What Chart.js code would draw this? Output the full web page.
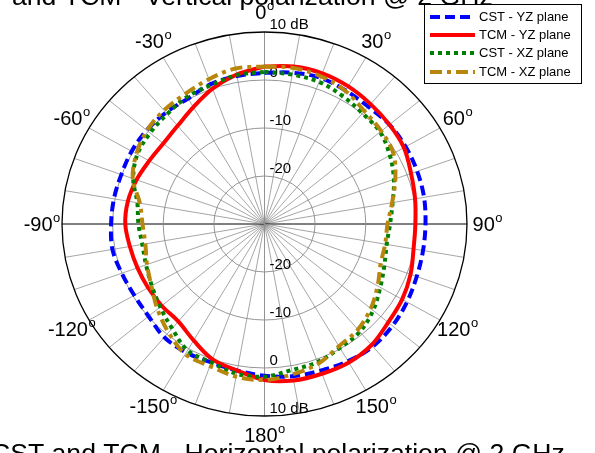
<!DOCTYPE html>
<html><head><meta charset="utf-8">
<script src="https://cdn.jsdelivr.net/npm/chart.js@4.4.0/dist/chart.umd.min.js"></script>
<style>html,body{margin:0;padding:0;background:#fff;}#wrap{width:595px;height:453px;position:relative;overflow:hidden;}</style>
</head><body><div id="wrap"><canvas id="c" width="595" height="453"></canvas></div>
<script>
// ---- data (angle in degrees, clockwise from top; values in dB) ----
const angles = [0,10,20,30,40,50,60,70,80,90,100,110,120,130,140,150,160,170,180,190,200,210,220,230,240,250,260,270,280,290,300,310,320,330,340,350];
const cstYZ = [1.5,2.0,2.4,2.1,1.9,2.2,2.2,2.1,2.0,1.8,1.8,2.0,2.5,3.0,3.3,3.0,2.5,2.2,1.6,1.0,0.7,0.9,0.8,-0.1,-0.3,0.0,0.5,0.3,0.2,0.1,0.3,0.4,0.3,0.2,1.0,1.3];
const tcmYZ = [2.8,3.3,3.4,3.1,2.6,2.2,1.8,0.8,0.2,-0.2,-0.1,0.7,1.4,1.9,2.9,3.3,3.2,3.1,2.5,1.0,0.0,-2.0,-3.5,-3.5,-3.45,-3.3,-3.0,-2.5,-2.6,-3.1,-3.7,-3.9,-3.3,-1.9,0.0,1.6];
const cstXZ = [1.7,1.6,1.5,0.8,0.1,-0.2,-1.4,-2.8,-4.3,-5.2,-5.5,-4.8,-3.6,-2.0,-0.7,-0.2,0.6,0.9,1.8,1.7,0.7,0.4,-1.6,-3.1,-4.3,-5.1,-5.5,-5.1,-4.5,-2.4,-1.0,-0.5,-0.1,0.6,0.8,1.5];
const tcmXZ = [2.8,3.0,2.7,2.0,0.7,0.1,-0.6,-2.5,-4.4,-5.7,-5.8,-5.6,-4.2,-2.6,-1.3,-0.6,1.0,1.8,2.5,2.3,1.5,1.3,-0.5,-2.4,-4.2,-5.3,-6.1,-5.9,-5.0,-2.3,-0.8,0.3,0.9,1.3,2.1,2.9];
const seriesLabels = ['CST - YZ plane','TCM - YZ plane','CST - XZ plane','TCM - XZ plane'];
const angleTicks = [0,30,60,90,120,150,180,-150,-120,-90,-60,-30];
const ringTicks = [-20,-10,0,10];
const ringTickLabels = ['-20','-10','0','10 dB'];
const rMin = -30, rMax = 10;
const spokeStep = 10;
const titleTop = 'CST and TCM - Vertical polarization @ 2 GHz';
const titleBottom = 'CST and TCM - Horizontal polarization @ 2 GHz';

const FONT = '"Liberation Sans", Arial, Helvetica, sans-serif';

function toXY(vals){
  const pts = angles.map((a,i)=>{
    const r = vals[i]-rMin, t = a*Math.PI/180;
    return {x: r*Math.sin(t), y: r*Math.cos(t)};
  });
  pts.push({x: pts[0].x, y: pts[0].y});
  return pts;
}

const polarGrid = {
  id: 'polarGrid',
  beforeDatasetsDraw(chart){
    const {ctx, scales:{x, y}} = chart;
    const cx = x.getPixelForValue(0), cy = y.getPixelForValue(0);
    const R = rMax - rMin;
    const rx = v => x.getPixelForValue(v) - cx;
    const ry = v => cy - y.getPixelForValue(v);
    ctx.save();
    // spokes
    for (let a = 0; a < 180; a += spokeStep){
      const t = a*Math.PI/180;
      ctx.beginPath();
      ctx.moveTo(cx - rx(R)*Math.sin(t), cy + ry(R)*Math.cos(t));
      ctx.lineTo(cx + rx(R)*Math.sin(t), cy - ry(R)*Math.cos(t));
      ctx.strokeStyle = a === 90 ? '#000' : (a === 0 ? '#777' : '#8f8f8f');
      ctx.lineWidth = a === 90 ? 1 : 0.8;
      ctx.stroke();
    }
    // rings
    ringTicks.forEach((v, i) => {
      const r = v - rMin;
      ctx.beginPath();
      ctx.ellipse(cx, cy, rx(r), ry(r), 0, 0, 2*Math.PI);
      const outer = i === ringTicks.length - 1;
      ctx.strokeStyle = outer ? '#000' : '#8a8a8a';
      ctx.lineWidth = outer ? 1.3 : 0.9;
      ctx.stroke();
    });
    // ring labels (top and bottom)
    ctx.fillStyle = '#000';
    ctx.font = '15px ' + FONT;
    ctx.textAlign = 'left';
    ctx.textBaseline = 'alphabetic';
    ringTicks.forEach((v, i) => {
      const r = v - rMin;
      ctx.fillText(ringTickLabels[i], cx + 5, cy - ry(r) - 3);
      ctx.fillText(ringTickLabels[i], cx + 5, cy + ry(r) - 3);
    });
    ctx.restore();
  },
  afterDraw(chart){
    const {ctx, scales:{x, y}} = chart;
    const cx = x.getPixelForValue(0), cy = y.getPixelForValue(0);
    const R = rMax - rMin;
    const RX = x.getPixelForValue(R) - cx, RY = cy - y.getPixelForValue(R);
    ctx.save();
    ctx.fillStyle = '#000';
    // angle labels
    angleTicks.forEach(a => {
      const t = a*Math.PI/180;
      const px = cx + 1.1*RX*Math.sin(t), py = cy - 1.1*RY*Math.cos(t);
      const main = String(a);
      ctx.font = '20px ' + FONT;
      const w1 = ctx.measureText(main).width;
      ctx.font = '13px ' + FONT;
      const w2 = ctx.measureText('o').width;
      const x0 = px - (w1 + w2)/2;
      ctx.textAlign = 'left';
      ctx.textBaseline = 'middle';
      ctx.font = '20px ' + FONT;
      ctx.fillText(main, x0, py + 1);
      ctx.font = '13px ' + FONT;
      ctx.fillText('o', x0 + w1 + 0.5, py - 6);
    });
    // titles (clipped by canvas edges)
    ctx.font = '26.6px ' + FONT;
    ctx.textBaseline = 'alphabetic';
    ctx.textAlign = 'left';
    ctx.fillText(titleTop, -48.6, 5);
    ctx.fillText(titleBottom, -9, 462);
    // legend
    const lx = 424.5, ly = 4.5, lw = 157, lh = 79;
    ctx.fillStyle = '#fff';
    ctx.fillRect(lx, ly, lw, lh);
    ctx.strokeStyle = '#000';
    ctx.lineWidth = 1;
    ctx.strokeRect(lx, ly, lw, lh);
    const rows = [17, 35, 53, 72];
    chart.data.datasets.forEach((ds, i) => {
      const yy = rows[i];
      ctx.beginPath();
      ctx.setLineDash(ds.borderDash || []);
      ctx.strokeStyle = ds.borderColor;
      ctx.lineWidth = ds.borderWidth;
      ctx.lineCap = 'butt';
      ctx.moveTo(430, yy);
      ctx.lineTo(475, yy);
      ctx.stroke();
      ctx.setLineDash([]);
      ctx.fillStyle = '#000';
      ctx.font = '13px ' + FONT;
      ctx.textBaseline = 'middle';
      ctx.fillText(ds.label, 479, yy + 0.5);
    });
    ctx.restore();
  }
};

const common = {showLine: true, pointRadius: 0, borderWidth: 4, tension: 0.35, fill: false, borderCapStyle: 'butt', borderJoinStyle: 'round'};

new Chart(document.getElementById('c'), {
  type: 'scatter',
  data: {
    datasets: [
      Object.assign({label: seriesLabels[0], data: toXY(cstYZ), borderColor: '#0000ff', backgroundColor: '#0000ff', borderDash: [10,5], order: 4}, common),
      Object.assign({label: seriesLabels[1], data: toXY(tcmYZ), borderColor: '#ff0000', backgroundColor: '#ff0000', borderDash: [], order: 3}, common),
      Object.assign({label: seriesLabels[2], data: toXY(cstXZ), borderColor: '#008000', backgroundColor: '#008000', borderDash: [4,4], order: 2}, common),
      Object.assign({label: seriesLabels[3], data: toXY(tcmXZ), borderColor: '#b8860b', backgroundColor: '#b8860b', borderDash: [12,5,4,5], order: 1}, common)
    ]
  },
  options: {
    responsive: false,
    devicePixelRatio: 1,
    animation: false,
    layout: {padding: {left: 62, right: 128, top: 32, bottom: 37}},
    scales: {
      x: {type: 'linear', min: -(rMax - rMin), max: rMax - rMin, display: false},
      y: {type: 'linear', min: -(rMax - rMin), max: rMax - rMin, display: false}
    },
    plugins: {legend: {display: false}, tooltip: {enabled: false}, title: {display: false}}
  },
  plugins: [polarGrid]
});
</script>
</body></html>
